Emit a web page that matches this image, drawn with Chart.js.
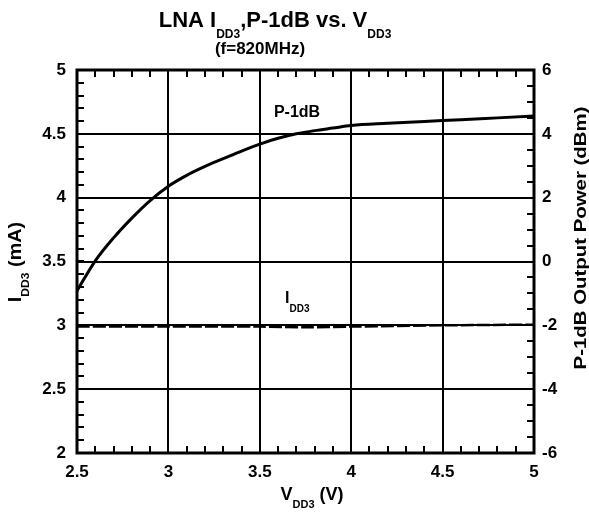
<!DOCTYPE html>
<html>
<head>
<meta charset="utf-8">
<script src="https://cdn.jsdelivr.net/npm/chart.js@4/dist/chart.umd.min.js"></script>
<style>
  html, body { margin: 0; padding: 0; background: #fff; }
  #wrap { width: 589px; height: 512px; }
</style>
</head>
<body>
<div id="wrap"><canvas id="lnaChart" width="589" height="512"></canvas></div>
<script>
// VDD3 sweep (V)
var vddP1dB = [2.5, 2.6, 2.7, 2.8, 2.9, 3.0, 3.1, 3.2, 3.3, 3.4, 3.5, 3.6, 3.7, 3.8, 3.9, 4.0, 4.2, 4.4, 4.6, 4.8, 5.0];
// P-1dB output power (dBm), right axis
var p1dB = [-0.92, 0.02, 0.74, 1.36, 1.91, 2.36, 2.7, 2.98, 3.22, 3.46, 3.68, 3.86, 4.0, 4.1, 4.18, 4.26, 4.33, 4.39, 4.44, 4.5, 4.56];
// IDD3 current (mA), left axis
var vddIdd = [2.5, 3.0, 3.5, 3.75, 4.0, 4.5, 5.0];
var idd3 = [2.99, 2.99, 2.99, 2.985, 2.99, 3.0, 3.005];

// tick labels
var xTicks = [2.5, 3, 3.5, 4, 4.5, 5];
var yTicks = [2, 2.5, 3, 3.5, 4, 4.5, 5];
var y2Ticks = [-6, -4, -2, 0, 2, 4, 6];

var FONT = 'Liberation Sans, Arial, Helvetica, sans-serif';

// draw a run of text pieces, some of them subscripts
function drawRuns(ctx, runs, x, y, align, stretch) {
    var k = stretch || 1;
    var total = 0;
    runs.forEach(function (r) {
        ctx.font = 'bold ' + r.size + 'px ' + FONT;
        r.w = ctx.measureText(r.t).width;
        total += r.w;
    });
    ctx.save();
    ctx.translate(x, y);
    ctx.scale(k, 1);
    var cx = align === 'center' ? -total / 2 : 0;
    ctx.textAlign = 'left';
    ctx.textBaseline = 'alphabetic';
    runs.forEach(function (r) {
        ctx.font = 'bold ' + r.size + 'px ' + FONT;
        ctx.fillText(r.t, cx, r.dy || 0);
        cx += r.w;
    });
    ctx.restore();
}

var textPlugin = {
    id: 'textPlugin',
    afterDraw: function (chart) {
        var ctx = chart.ctx;
        var a = chart.chartArea;
        var sx = chart.scales.x, sy = chart.scales.y, sy2 = chart.scales.y2;
        ctx.save();
        ctx.strokeStyle = '#000';
        ctx.fillStyle = '#000';

        // minor ticks, pointing inward
        ctx.lineWidth = 2;
        ctx.beginPath();
        for (var v = 2.5; v <= 5.001; v += 0.1) {
            var px = Math.round(sx.getPixelForValue(v));
            ctx.moveTo(px, a.bottom); ctx.lineTo(px, a.bottom - 7);
            ctx.moveTo(px, a.top); ctx.lineTo(px, a.top + 7);
        }
        for (var w = 2; w <= 5.001; w += 0.1) {
            var py = Math.round(sy.getPixelForValue(w));
            ctx.moveTo(a.left, py); ctx.lineTo(a.left + 7, py);
        }
        for (var u = -6; u <= 6.001; u += 0.5) {
            var py2 = Math.round(sy2.getPixelForValue(u));
            ctx.moveTo(a.right, py2); ctx.lineTo(a.right - 7, py2);
        }
        ctx.stroke();

        // frame
        ctx.lineWidth = 3;
        ctx.strokeRect(a.left, a.top, a.right - a.left, a.bottom - a.top);

        // title
        drawRuns(ctx, [
            { t: 'LNA I', size: 22 },
            { t: 'DD3', size: 12, dy: 11 },
            { t: ',P-1dB vs. V', size: 22 },
            { t: 'DD3', size: 12, dy: 11 }
        ], 275, 27, 'center');
        drawRuns(ctx, [{ t: '(f=820MHz)', size: 17 }], 260, 54, 'center');

        // x axis title
        drawRuns(ctx, [
            { t: 'V', size: 18 },
            { t: 'DD3', size: 11, dy: 8 },
            { t: ' (V)', size: 18 }
        ], 312, 500, 'center');

        // left axis title
        ctx.save();
        ctx.translate(21, 262);
        ctx.rotate(-Math.PI / 2);
        drawRuns(ctx, [
            { t: 'I', size: 18 },
            { t: 'DD3', size: 11, dy: 8 },
            { t: ' (mA)', size: 18 }
        ], 0, 0, 'center', 1.1);
        ctx.restore();

        // right axis title
        ctx.save();
        ctx.translate(586, 238);
        ctx.rotate(-Math.PI / 2);
        drawRuns(ctx, [{ t: 'P-1dB Output Power (dBm)', size: 17 }], 0, 0, 'center', 1.2);
        ctx.restore();

        // curve labels
        drawRuns(ctx, [{ t: 'P-1dB', size: 16 }], 297, 117, 'center');
        drawRuns(ctx, [
            { t: 'I', size: 16 },
            { t: 'DD3', size: 10, dy: 9 }
        ], 285, 303, 'left');

        ctx.restore();
    }
};

var tickFont = { family: FONT, size: 17, weight: 'bold' };
function plainLabel(value) { return String(value); }

var ctx = document.getElementById('lnaChart').getContext('2d');
new Chart(ctx, {
    type: 'line',
    data: {
        datasets: [{
            label: 'IDD3',
            data: vddIdd.map(function (v, i) { return { x: v, y: idd3[i] }; }),
            yAxisID: 'y',
            borderColor: '#000',
            borderWidth: 2.5,
            borderDash: [13, 3],
            pointRadius: 0,
            tension: 0.3,
            fill: false
        }, {
            label: 'P-1dB',
            data: vddP1dB.map(function (v, i) { return { x: v, y: p1dB[i] }; }),
            yAxisID: 'y2',
            borderColor: '#000',
            borderWidth: 3,
            pointRadius: 0,
            cubicInterpolationMode: 'monotone',
            fill: false
        }]
    },
    options: {
        responsive: false,
        animation: false,
        layout: { padding: { top: 70, left: 0, right: 0, bottom: 0 } },
        plugins: {
            legend: { display: false },
            title: { display: false },
            tooltip: { enabled: false }
        },
        scales: {
            x: {
                type: 'linear',
                min: 2.5,
                max: 5,
                afterFit: function (s) { s.height = 59; },
                afterBuildTicks: function (s) { s.ticks = xTicks.map(function (v) { return { value: v }; }); },
                grid: { color: '#000', lineWidth: 2, drawTicks: false },
                border: { display: false },
                ticks: { color: '#000', padding: 9, maxRotation: 0, font: tickFont, callback: plainLabel }
            },
            y: {
                type: 'linear',
                position: 'left',
                min: 2,
                max: 5,
                afterFit: function (s) { s.width = 77; },
                afterBuildTicks: function (s) { s.ticks = yTicks.map(function (v) { return { value: v }; }); },
                grid: { color: '#000', lineWidth: 2, drawTicks: false },
                border: { display: false },
                ticks: { color: '#000', padding: 11, font: tickFont, callback: plainLabel }
            },
            y2: {
                type: 'linear',
                position: 'right',
                min: -6,
                max: 6,
                afterFit: function (s) { s.width = 55; },
                afterBuildTicks: function (s) { s.ticks = y2Ticks.map(function (v) { return { value: v }; }); },
                grid: { display: false, drawTicks: false },
                border: { display: false },
                ticks: { color: '#000', padding: 8, font: tickFont, callback: plainLabel }
            }
        }
    },
    plugins: [textPlugin]
});
</script>
</body>
</html>
